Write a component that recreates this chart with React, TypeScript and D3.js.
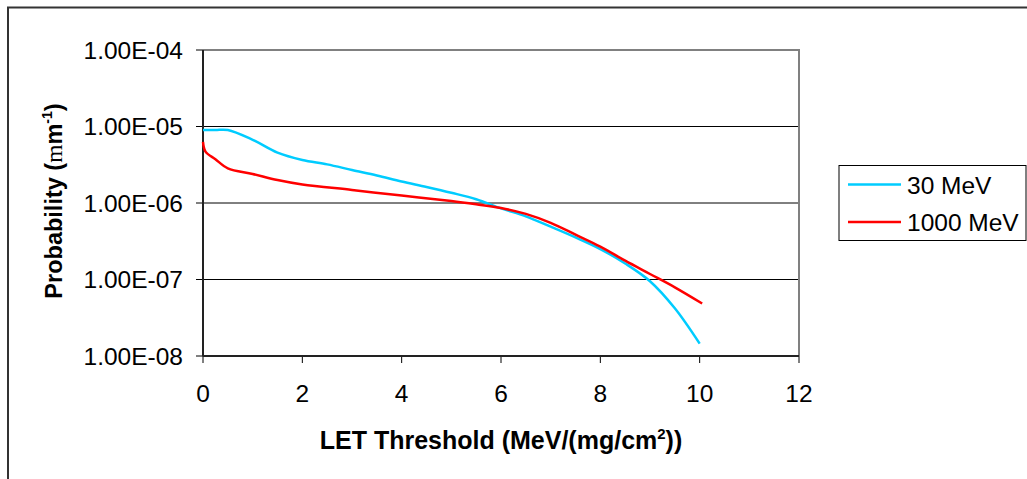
import React from "react";
import * as d3 from "d3";

const let30 = [0, 0.25, 0.5, 1, 1.5, 2, 2.5, 3, 3.5, 4, 4.5, 5, 5.5, 6, 6.5, 7, 7.5, 8, 8.5, 9, 9.5, 10];
const prob30 = [9.0e-6, 9.0e-6, 9.0e-6, 6.7e-6, 4.55e-6, 3.65e-6, 3.2e-6, 2.7e-6, 2.29e-6, 1.91e-6, 1.62e-6, 1.36e-6, 1.12e-6, 8.5e-7, 6.7e-7, 4.9e-7, 3.55e-7, 2.5e-7, 1.62e-7, 9.5e-8, 4.2e-8, 1.45e-8];

const let1000 = [0, 0.05, 0.25, 0.5, 1, 1.5, 2, 3, 4, 5, 5.5, 6, 6.5, 7, 7.5, 8, 8.5, 9, 9.5, 10.05];
const prob1000 = [6.3e-6, 4.7e-6, 3.73e-6, 2.84e-6, 2.4e-6, 2.0e-6, 1.75e-6, 1.48e-6, 1.25e-6, 1.06e-6, 9.6e-7, 8.6e-7, 7.2e-7, 5.5e-7, 3.86e-7, 2.69e-7, 1.76e-7, 1.18e-7, 7.9e-8, 4.85e-8];

const xTicks = [0, 2, 4, 6, 8, 10, 12];
const yTicks = [1e-4, 1e-5, 1e-6, 1e-7, 1e-8];
const yTickLabels = ["1.00E-04", "1.00E-05", "1.00E-06", "1.00E-07", "1.00E-08"];
const seriesNames = ["30 MeV", "1000 MeV"];
const seriesColors = ["#00CCFF", "#FF0000"];

const W = 1027;
const H = 479;
const L = 203, R = 799, T = 50, B = 356;
const FONT = "Arial, 'Liberation Sans', sans-serif";
const FS = 24.5;

export default function App() {
  const x = d3.scaleLinear().domain([0, 12]).range([L, R]);
  const y = d3.scaleLog().domain([1e-8, 1e-4]).range([B, T]);
  const line = d3
    .line<[number, number]>()
    .x((d) => x(d[0]))
    .y((d) => y(d[1]))
    .curve(d3.curveCatmullRom.alpha(0.5));
  const s30 = let30.map((v, i) => [v, prob30[i]] as [number, number]);
  const s1000 = let1000.map((v, i) => [v, prob1000[i]] as [number, number]);
  const series = [s30, s1000];

  return (
    <svg
      width={W}
      height={H}
      style={{ position: "absolute", left: 0, top: 0, background: "#fff" }}
      fontFamily={FONT}
    >
      <rect x={0} y={0} width={W} height={H} fill="#fff" />
      {/* outer chart frame */}
      <rect x={8} y={7.5} width={W + 20} height={H + 20} fill="none" stroke="#333" strokeWidth={2} />
      {/* gridlines */}
      {yTicks.map((t) => (
        <line key={"g" + t} x1={L} x2={R} y1={y(t)} y2={y(t)} stroke="#000" strokeWidth={1} />
      ))}
      {/* plot area border top/right gray */}
      <line x1={L} x2={R} y1={T} y2={T} stroke="#808080" strokeWidth={2} />
      <line x1={R} x2={R} y1={T - 1} y2={B} stroke="#808080" strokeWidth={2} />
      {/* y ticks */}
      {yTicks.map((t, i) => (
        <g key={"yt" + t}>
          <line x1={L - 7} x2={L} y1={y(t)} y2={y(t)} stroke="#000" strokeWidth={1} />
          <text x={L - 20} y={y(t) + 8.5} textAnchor="end" fontSize={FS} fill="#000">
            {yTickLabels[i]}
          </text>
        </g>
      ))}
      {/* x ticks */}
      {xTicks.map((t) => (
        <g key={"xt" + t}>
          <line x1={x(t)} x2={x(t)} y1={B} y2={B + 7} stroke="#000" strokeWidth={1} />
          <text x={x(t)} y={402} textAnchor="middle" fontSize={FS} fill="#000">
            {t}
          </text>
        </g>
      ))}
      {/* axes */}
      <line x1={L} x2={L} y1={T} y2={B} stroke="#222" strokeWidth={2} />
      <line x1={L} x2={R} y1={B} y2={B} stroke="#222" strokeWidth={2} />
      {/* series */}
      {series.map((s, i) => (
        <path key={"s" + i} d={line(s) || ""} fill="none" stroke={seriesColors[i]} strokeWidth={2.5} />
      ))}
      {/* axis titles */}
      <text x={501} y={449} textAnchor="middle" fontSize={25} fontWeight="bold" fill="#000">
        LET Threshold (MeV/(mg/cm
        <tspan fontSize={15} dy={-10}>2</tspan>
        <tspan dy={10}>))</tspan>
      </text>
      <text
        transform="translate(62,201) rotate(-90)"
        textAnchor="middle"
        fontSize={23.5}
        fontWeight="bold"
        fill="#000"
      >
        Probability (
        <tspan fontFamily="'Liberation Serif', 'Times New Roman', serif" fontWeight="normal">m</tspan>
        m
        <tspan fontSize={14} dy={-10}>-1</tspan>
        <tspan dy={10}>)</tspan>
      </text>
      {/* legend */}
      <rect x={839} y={165.5} width={187} height={75} fill="#fff" stroke="#000" strokeWidth={1} />
      {seriesNames.map((n, i) => {
        const ly = i === 0 ? 184.5 : 222;
        return (
          <g key={"lg" + i}>
            <line x1={848} x2={901} y1={ly} y2={ly} stroke={seriesColors[i]} strokeWidth={2.5} />
            <text x={907} y={ly + 9} fontSize={FS} fill="#000">
              {n}
            </text>
          </g>
        );
      })}
    </svg>
  );
}
